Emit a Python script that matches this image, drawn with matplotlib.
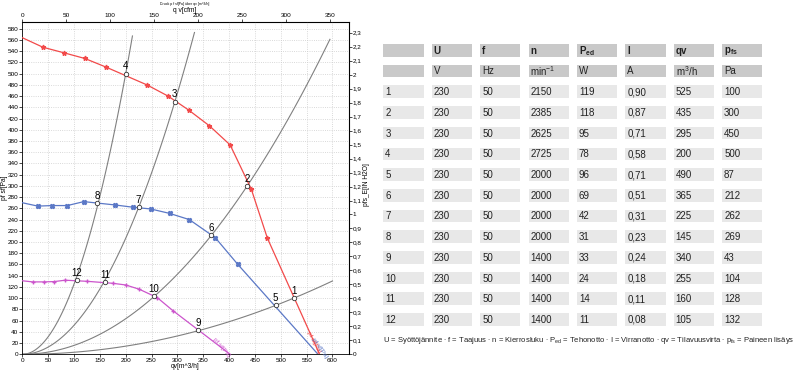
import numpy as np
import matplotlib
matplotlib.use('Agg')
import matplotlib.pyplot as plt
from matplotlib.patches import Rectangle
from matplotlib.ticker import FuncFormatter

plt.rcParams['font.family'] = ['Liberation Sans', 'DejaVu Sans']
plt.rcParams['mathtext.fontset'] = 'custom'
plt.rcParams['mathtext.rm'] = 'Liberation Sans'
plt.rcParams['mathtext.it'] = 'Liberation Sans'
plt.rcParams['mathtext.bf'] = 'Liberation Sans:bold'

# fan curves (qv m3/h, pf sf Pa)
red_q = [0, 40, 81, 121, 161, 241, 282, 322, 362, 402, 443, 474, 575]
red_p = [564, 547, 537, 527, 512, 480, 460, 435, 407, 373, 294, 207, 0]
blue_q = [0, 30, 58, 87, 119, 180, 214, 248, 285, 323, 373, 417, 572]
blue_p = [270, 264, 265, 265, 272, 266, 262, 259, 251, 240, 208, 160, 0]
mag_q = [0, 20, 41, 61, 83, 126, 175, 200, 226, 261, 291, 402]
mag_p = [131, 129, 129, 129.5, 132, 130, 126.5, 123.5, 116, 101, 78, 0]

# system curves p = k*q^2, drawn up to q_end
sys_k = [0.0125, 0.00517, 0.001585, 0.000363]
sys_qend = [213, 333, 595, 600]

# operating points table
pt = [1, 2, 3, 4, 5, 6, 7, 8, 9, 10, 11, 12]
U = [230] * 12
f = [50] * 12
n = [2150, 2385, 2625, 2725, 2000, 2000, 2000, 2000, 1400, 1400, 1400, 1400]
Ped = [119, 118, 95, 78, 96, 69, 42, 31, 33, 24, 14, 11]
I = ['0,90', '0,87', '0,71', '0,58', '0,71', '0,51', '0,31', '0,23', '0,24', '0,18', '0,11', '0,08']
qv = [525, 435, 295, 200, 490, 365, 225, 145, 340, 255, 160, 105]
pfs = [100, 300, 450, 500, 87, 212, 262, 269, 43, 104, 128, 132]

head1 = ['', 'U', 'f', 'n', r'P$_{\mathbf{ed}}$', 'I', 'qv', r'p$_{\mathbf{fs}}$']
head2 = ['', 'V', 'Hz', r'min$^{-1}$', 'W', 'A', r'm$^{3}$/h', 'Pa']

fig = plt.figure(figsize=(8, 3.71), dpi=100)
ax = fig.add_axes([0.0279, 0.045, 0.4084, 0.8957])

c_red = '#f24a4a'
c_blue = '#5b78c6'
c_mag = '#cc55cc'
c_sys = '#808080'

for k, qe in zip(sys_k, sys_qend):
    qq = np.linspace(0, qe, 80)
    ax.plot(qq, k * qq ** 2, color=c_sys, lw=0.8, zorder=2)

ax.plot(red_q, red_p, color=c_red, lw=0.9, marker='*', ms=3.5, markevery=slice(1, -1), zorder=3)
ax.plot(blue_q, blue_p, color=c_blue, lw=0.9, marker='X', ms=3, markevery=slice(1, -1), zorder=3)
ax.plot(mag_q, mag_p, color=c_mag, lw=0.9, marker='+', ms=3.5, markevery=slice(1, -1), zorder=3)

ax.plot(qv, pfs, 'o', ms=3.2, mfc='white', mec='#333333', mew=0.6, zorder=4)
for i, q, p in zip(pt, qv, pfs):
    ax.text(q, p + 4, str(i), fontsize=7, ha='center', va='bottom', zorder=5)

ax.text(385, 12, 'pf sf[Pa]', fontsize=4.5, color=c_mag, rotation=-50, ha='center', va='center')
ax.text(563, 22, 'pf sf[Pa]', fontsize=4.5, color=c_red, rotation=-62, ha='center', va='center')
ax.text(575, 12, 'pf sf[Pa]', fontsize=4.5, color=c_blue, rotation=-55, ha='center', va='center')

ax.set_xlim(0, 632)
ax.set_ylim(0, 592)
ax.set_xticks(np.arange(0, 601, 50))
ax.set_yticks(np.arange(0, 581, 20))
ax.grid(True, ls=':', color='#cccccc', lw=0.6)
ax.tick_params(labelsize=4.6, length=2, width=0.5, pad=0.8)
for s in ax.spines.values():
    s.set_linewidth(0.6)

sec_y = ax.secondary_yaxis('right', functions=(lambda p: p / 249.09, lambda h: h * 249.09))
sec_y.set_yticks(np.arange(0, 2.35, 0.1))
sec_y.yaxis.set_major_formatter(FuncFormatter(
    lambda v, _: ('%.1f' % v).rstrip('0').rstrip('.').replace('.', ',')))
sec_y.tick_params(labelsize=4.6, length=2, width=0.5, pad=0.8)

sec_x = ax.secondary_xaxis('top', functions=(lambda q: q / 1.699, lambda c: c * 1.699))
sec_x.set_xticks(np.arange(0, 351, 50))
sec_x.tick_params(labelsize=4.6, length=2, width=0.5, pad=0.8)

# axis titles placed in pixels
W, H = 800.0, 371.0
fig.text(185 / W, 1 - 367 / H, 'qv[m^3/h]', fontsize=4.8, ha='center', va='center')
fig.text(185 / W, 1 - 10.5 / H, 'q v[cfm]', fontsize=4.8, ha='center', va='center')
fig.text(4.5 / W, 1 - 188 / H, 'pf sf[Pa]', fontsize=4.8, ha='center', va='center', rotation=90)
fig.text(367 / W, 1 - 185 / H, 'pfs_E[IN H2O]', fontsize=4.8, ha='center', va='center', rotation=90)
fig.text(185 / W, 1 - 3.5 / H, 'Druck p f sf[Pa] \u00fcber qv [m^3/h]', fontsize=2.5, ha='center', va='center')

# table drawn in pixel coordinates
tab = fig.add_axes([0, 0, 1, 1], zorder=-1)
tab.set_xlim(0, 800)
tab.set_ylim(371, 0)
tab.axis('off')

col_x = [383.3 + 48.4 * j for j in range(8)]
cw = 40.2
rh = 12.6
row_y = [44 + 20.7 * r for r in range(14)]

rows = [head1, head2]
for r in range(12):
    rows.append([str(pt[r]), str(U[r]), str(f[r]), str(n[r]), str(Ped[r]), I[r], str(qv[r]), str(pfs[r])])

for r, cells in enumerate(rows):
    fc = '#c9c9c9' if r < 2 else '#e8e8e8'
    for j, txt in enumerate(cells):
        tab.add_patch(Rectangle((col_x[j], row_y[r]), cw, rh, fc=fc, ec='none'))
        if txt:
            tab.text(col_x[j] + 2, row_y[r] + rh / 2 + 0.5, txt, fontsize=7, va='center', ha='left',
                     fontweight='bold' if r == 0 else 'normal', color='#222222')

note = ('U = Sy\u00f6tt\u00f6j\u00e4nnite $\\cdot$ f = Taajuus $\\cdot$ n = Kierrosluku $\\cdot$ '
        'P$_{\\mathrm{ed}}$ = Tehonotto $\\cdot$ I = Virranotto $\\cdot$ qv = Tilavuusvirta $\\cdot$ '
        'p$_{\\mathrm{fs}}$ = Paineen lis\u00e4ys')
tab.text(383, 340, note, fontsize=5.5, va='center', ha='left', color='#222222')

fig.savefig('out.png', dpi=100)
